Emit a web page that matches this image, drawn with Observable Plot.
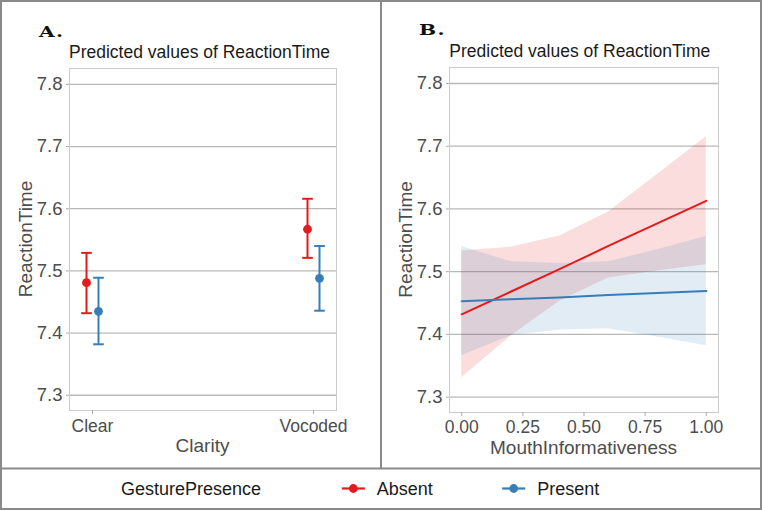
<!DOCTYPE html>
<html>
<head>
<meta charset="utf-8">
<script src="https://cdn.jsdelivr.net/npm/d3@7"></script>
<script src="https://cdn.jsdelivr.net/npm/@observablehq/plot@0.6"></script>
<style>
  html, body { margin: 0; padding: 0; background: #fff; }
  #page { position: relative; width: 762px; height: 511px; overflow: hidden; background: #fff; font-family: "Liberation Sans", Arial, sans-serif; }
  #page > div.panel { position: absolute; top: 0; }
  #overlay { position: absolute; left: 0; top: 0; pointer-events: none; }
</style>
</head>
<body>
<div id="page">
  <div class="panel" id="panelA" style="left:0px"></div>
  <div class="panel" id="panelB" style="left:381px"></div>
  <svg id="overlay" width="762" height="511"></svg>
</div>
<script>
// ---------- data ----------
const clarity = ["Clear", "Vocoded"];
const groups = ["Absent", "Present"];
const groupColors = ["#E41A1C", "#377EB8"];

// Panel A: predicted values with 95% CI
const absentPred = [7.481, 7.567];
const absentLow  = [7.432, 7.521];
const absentHigh = [7.529, 7.616];
const presentPred = [7.435, 7.488];
const presentLow  = [7.382, 7.436];
const presentHigh = [7.489, 7.540];

// Panel B: predictions over MouthInformativeness
const mouthX = [0, 0.2, 0.4, 0.6, 0.8, 1.0];
const absentFitB  = [7.432, 7.468, 7.504, 7.541, 7.577, 7.613];
const absentLowB  = [7.331, 7.397, 7.453, 7.490, 7.501, 7.511];
const absentHighB = [7.533, 7.539, 7.557, 7.595, 7.655, 7.715];
const presentFitB  = [7.453, 7.456, 7.459, 7.463, 7.466, 7.469];
const presentLowB  = [7.366, 7.398, 7.407, 7.409, 7.396, 7.382];
const presentHighB = [7.540, 7.516, 7.513, 7.516, 7.535, 7.556];

const yTicks = [7.3, 7.4, 7.5, 7.6, 7.7, 7.8];
const yDomain = [7.2755, 7.8255];
const xTicksB = [0, 0.25, 0.5, 0.75, 1.0];
const xDomainB = [-0.05, 1.05];

const titleText = "Predicted values of ReactionTime";
const yTitle = "ReactionTime";
const xTitleA = "Clarity";
const xTitleB = "MouthInformativeness";
const legendTitle = "GesturePresence";

// ---------- build tables ----------
const rowsA = {
  Absent: clarity.map((c, i) => ({clarity: c, group: "Absent", pred: absentPred[i], lo: absentLow[i], hi: absentHigh[i]})),
  Present: clarity.map((c, i) => ({clarity: c, group: "Present", pred: presentPred[i], lo: presentLow[i], hi: presentHigh[i]}))
};
const rowsB = {
  Absent: mouthX.map((x, i) => ({x, fit: absentFitB[i], lo: absentLowB[i], hi: absentHighB[i]})),
  Present: mouthX.map((x, i) => ({x, fit: presentFitB[i], lo: presentLowB[i], hi: presentHighB[i]}))
};

const capSymbol = {
  draw(ctx, size) {
    const r = Math.sqrt(size / Math.PI);
    ctx.moveTo(-r, 0);
    ctx.lineTo(r, 0);
  }
};

const gridColor = "#b8b8b8";
const frameColor = "#cccccc";
const textGray = "#4d4d4d";
const plotStyle = {fontFamily: "'Liberation Sans', Arial, sans-serif", background: "transparent", overflow: "visible"};

// ---------- Panel A ----------
const marksA = [
  Plot.ruleY(yTicks, {stroke: gridColor, strokeWidth: 1.3}),
  Plot.frame({stroke: frameColor, strokeWidth: 1}),
  Plot.axisY({ticks: yTicks, tickSize: 3, tickPadding: 4, fontSize: 18.5, fill: textGray, stroke: "#aaaaaa", label: null, tickFormat: d3.format(".1f")}),
  Plot.axisX({tickSize: 4, tickPadding: 5, fontSize: 17.5, fill: textGray, stroke: "#aaaaaa", label: null})
];
groups.forEach((g, gi) => {
  const dx = gi === 0 ? -6 : 6;
  const col = groupColors[gi];
  const data = rowsA[g];
  marksA.push(
    Plot.ruleX(data, {x: "clarity", y1: "lo", y2: "hi", stroke: col, strokeWidth: 2, dx}),
    Plot.dot(data, {x: "clarity", y: "lo", symbol: capSymbol, r: 5.3, stroke: col, fill: "none", strokeWidth: 2, dx}),
    Plot.dot(data, {x: "clarity", y: "hi", symbol: capSymbol, r: 5.3, stroke: col, fill: "none", strokeWidth: 2, dx}),
    Plot.dot(data, {x: "clarity", y: "pred", r: 4.4, fill: col, stroke: "none", dx})
  );
});
const plotA = Plot.plot({
  width: 381, height: 466,
  marginLeft: 69, marginRight: 45, marginTop: 68, marginBottom: 56,
  style: plotStyle,
  x: {type: "point", domain: clarity, padding: 0.104},
  y: {domain: yDomain},
  marks: marksA
});
document.getElementById("panelA").appendChild(plotA);

// ---------- Panel B ----------
const marksB = [
  Plot.ruleY(yTicks, {stroke: gridColor, strokeWidth: 1.3}),
  Plot.frame({stroke: frameColor, strokeWidth: 1}),
  Plot.axisY({ticks: yTicks, tickSize: 3, tickPadding: 4, fontSize: 18.5, fill: textGray, stroke: "#aaaaaa", label: null, tickFormat: d3.format(".1f")}),
  Plot.axisX({ticks: xTicksB, tickSize: 4, tickPadding: 4, fontSize: 17.5, fill: textGray, stroke: "#aaaaaa", label: null, tickFormat: d3.format(".2f")})
];
groups.forEach((g, gi) => {
  marksB.push(Plot.areaY(rowsB[g], {x: "x", y1: "lo", y2: "hi", fill: groupColors[gi], fillOpacity: 0.15}));
});
groups.forEach((g, gi) => {
  marksB.push(Plot.lineY(rowsB[g], {x: "x", y: "fit", stroke: groupColors[gi], strokeWidth: 2}));
});
const plotB = Plot.plot({
  width: 381, height: 466,
  marginLeft: 68, marginRight: 44, marginTop: 67, marginBottom: 54,
  style: plotStyle,
  x: {domain: xDomainB},
  y: {domain: yDomain},
  marks: marksB
});
document.getElementById("panelB").appendChild(plotB);

// ---------- overlay: borders, titles, legend ----------
const ov = d3.select("#overlay");
const ff = "'Liberation Sans', Arial, sans-serif";
ov.append("rect").attr("x", 1).attr("y", 1).attr("width", 760).attr("height", 508)
  .attr("fill", "none").attr("stroke", "#8a8a8a").attr("stroke-width", 2);
ov.append("line").attr("x1", 381).attr("x2", 381).attr("y1", 0).attr("y2", 468)
  .attr("stroke", "#8a8a8a").attr("stroke-width", 2);
ov.append("line").attr("x1", 0).attr("x2", 762).attr("y1", 468.5).attr("y2", 468.5)
  .attr("stroke", "#8a8a8a").attr("stroke-width", 2);

function txt(s, x, y, opts = {}) {
  const t = ov.append("text").attr("x", x).attr("y", y).text(s)
    .attr("font-family", opts.family || ff)
    .attr("font-size", opts.size || 18)
    .attr("fill", opts.fill || "#1a1a1a")
    .attr("text-anchor", opts.anchor || "start");
  if (opts.weight) t.attr("font-weight", opts.weight);
  if (opts.ls) t.attr("letter-spacing", opts.ls);
  if (opts.transform) t.attr("transform", opts.transform).attr("x", 0).attr("y", 0);
  return t;
}
const serif = "'DejaVu Serif', 'Liberation Serif', serif";
txt("A.", 0, 0, {family: serif, size: 15, weight: "bold", ls: 1, fill: "#111", transform: "translate(39,36.6) scale(1.35,1)"});
txt("B.", 0, 0, {family: serif, size: 15, weight: "bold", ls: 1, fill: "#111", transform: "translate(419,35.3) scale(1.35,1)"});
txt(titleText, 69, 58.3, {size: 17.5});
txt(titleText, 449.3, 56.7, {size: 17.5});
txt(yTitle, 0, 0, {size: 19, fill: textGray, anchor: "middle", transform: "translate(31.7,239) rotate(-90)"});
txt(yTitle, 0, 0, {size: 19, fill: textGray, anchor: "middle", transform: "translate(411.7,239.4) rotate(-90)"});
txt(xTitleA, 202.5, 452.3, {size: 19, fill: textGray, anchor: "middle"});
txt(xTitleB, 583.5, 454, {size: 19, fill: textGray, anchor: "middle"});

// legend
txt(legendTitle, 121, 495.2, {size: 18});
const keyX = [353.3, 513.7];
const labelX = [376.7, 537.3];
groups.forEach((g, gi) => {
  ov.append("line").attr("x1", keyX[gi] - 11.5).attr("x2", keyX[gi] + 11.5)
    .attr("y1", 488.5).attr("y2", 488.5).attr("stroke", groupColors[gi]).attr("stroke-width", 2.2);
  ov.append("circle").attr("cx", keyX[gi]).attr("cy", 488.5).attr("r", 4.4).attr("fill", groupColors[gi]);
  txt(g, labelX[gi], 495.2, {size: 18});
});
</script>
</body>
</html>
